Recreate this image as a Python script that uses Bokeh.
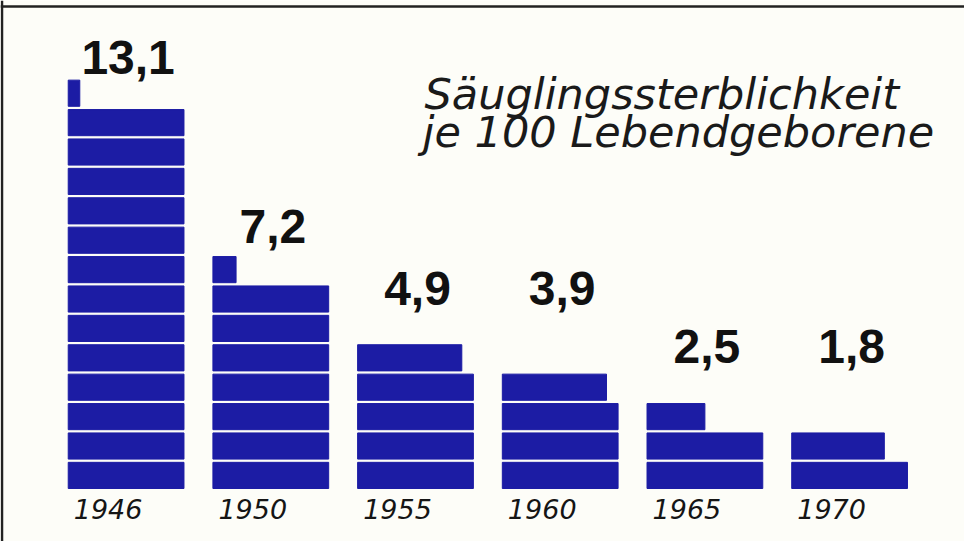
import math
from bokeh.plotting import figure
from bokeh.models import ColumnDataSource, Span
from bokeh.core.properties import value
from bokeh.embed import file_html
from bokeh.resources import INLINE

# ---- data ----
years = ["1946", "1950", "1955", "1960", "1965", "1970"]
rates = [13.1, 7.2, 4.9, 3.9, 2.5, 1.8]
rate_labels = ["13,1", "7,2", "4,9", "3,9", "2,5", "1,8"]
label_level = [14.0, 8.25, 6.15, 6.15, 4.2, 4.2]
title_lines = ["Säuglingssterblichkeit", "je 100 Lebendgeborene"]

# ---- layout constants (pixels) ----
W, H = 964, 541
XU = 144.7      # px per column
YU = 29.4       # px per unit of rate
COL0 = 125.6    # px of first column centre
BASE = 53       # px from bottom to bar baseline
BAR_W = 0.80
SEG_H = 0.89

x_start = -COL0 / XU
x_end = x_start + W / XU
y_start = -BASE / YU
y_end = y_start + H / YU

def px_x(px):
    return x_start + px / XU

def px_y(py_from_top):
    return y_start + (H - py_from_top) / YU

BLUE = "#1c1ca4"
BG = "#fdfdf8"

p = figure(width=W, height=H, x_range=(x_start, x_end), y_range=(y_start, y_end),
           output_backend="svg", toolbar_location=None, min_border=0,
           background_fill_color=BG, border_fill_color=BG, outline_line_color=None)
p.axis.visible = False
p.grid.visible = False

# build unit segments from values
left, right, bottom, top = [], [], [], []
for i, v in enumerate(rates):
    full = int(math.floor(v))
    frac = v - full
    l = i - BAR_W / 2
    for k in range(full):
        left.append(l); right.append(l + BAR_W)
        bottom.append(k); top.append(k + SEG_H)
    if frac > 1e-9:
        left.append(l); right.append(l + BAR_W * frac)
        bottom.append(full); top.append(full + SEG_H)

seg = ColumnDataSource(dict(left=left, right=right, bottom=bottom, top=top))
p.quad(left="left", right="right", bottom="bottom", top="top", source=seg,
       fill_color=BLUE, line_color=BLUE, line_width=1)

# value labels
lab = ColumnDataSource(dict(x=list(range(len(years))), y=label_level, t=rate_labels))
p.text(x="x", y="y", text="t", source=lab, text_font=value("Liberation Sans"),
       text_font_style="bold", text_font_size="48px", text_align="center",
       text_baseline="alphabetic", text_color="#111111", y_offset=-19, x_offset=2)

# year labels
yl = ColumnDataSource(dict(x=list(range(len(years))), y=[-31 / YU] * len(years), t=years))
p.text(x="x", y="y", text="t", source=yl, text_font=value("DejaVu Sans"),
       text_font_style="italic", text_font_size="27px", text_align="center",
       text_baseline="alphabetic", text_color="#151515", x_offset=-18, y_offset=-11)

# title
tl = ColumnDataSource(dict(x=[px_x(424), px_x(422)], y=[px_y(109), px_y(147)], t=title_lines))
p.text(x="x", y="y", text="t", source=tl, text_font=value("DejaVu Sans"),
       text_font_style="italic", text_font_size="43px", text_align="left",
       text_baseline="alphabetic", text_color="#1a1a1a", y_offset=-16)

# frame lines
p.add_layout(Span(location=px_x(1.5), dimension="height", line_color="#222222", line_width=2.5))
p.add_layout(Span(location=px_y(6), dimension="width", line_color="#222222", line_width=2.5))

open("out.html", "w").write(file_html(p, INLINE))
